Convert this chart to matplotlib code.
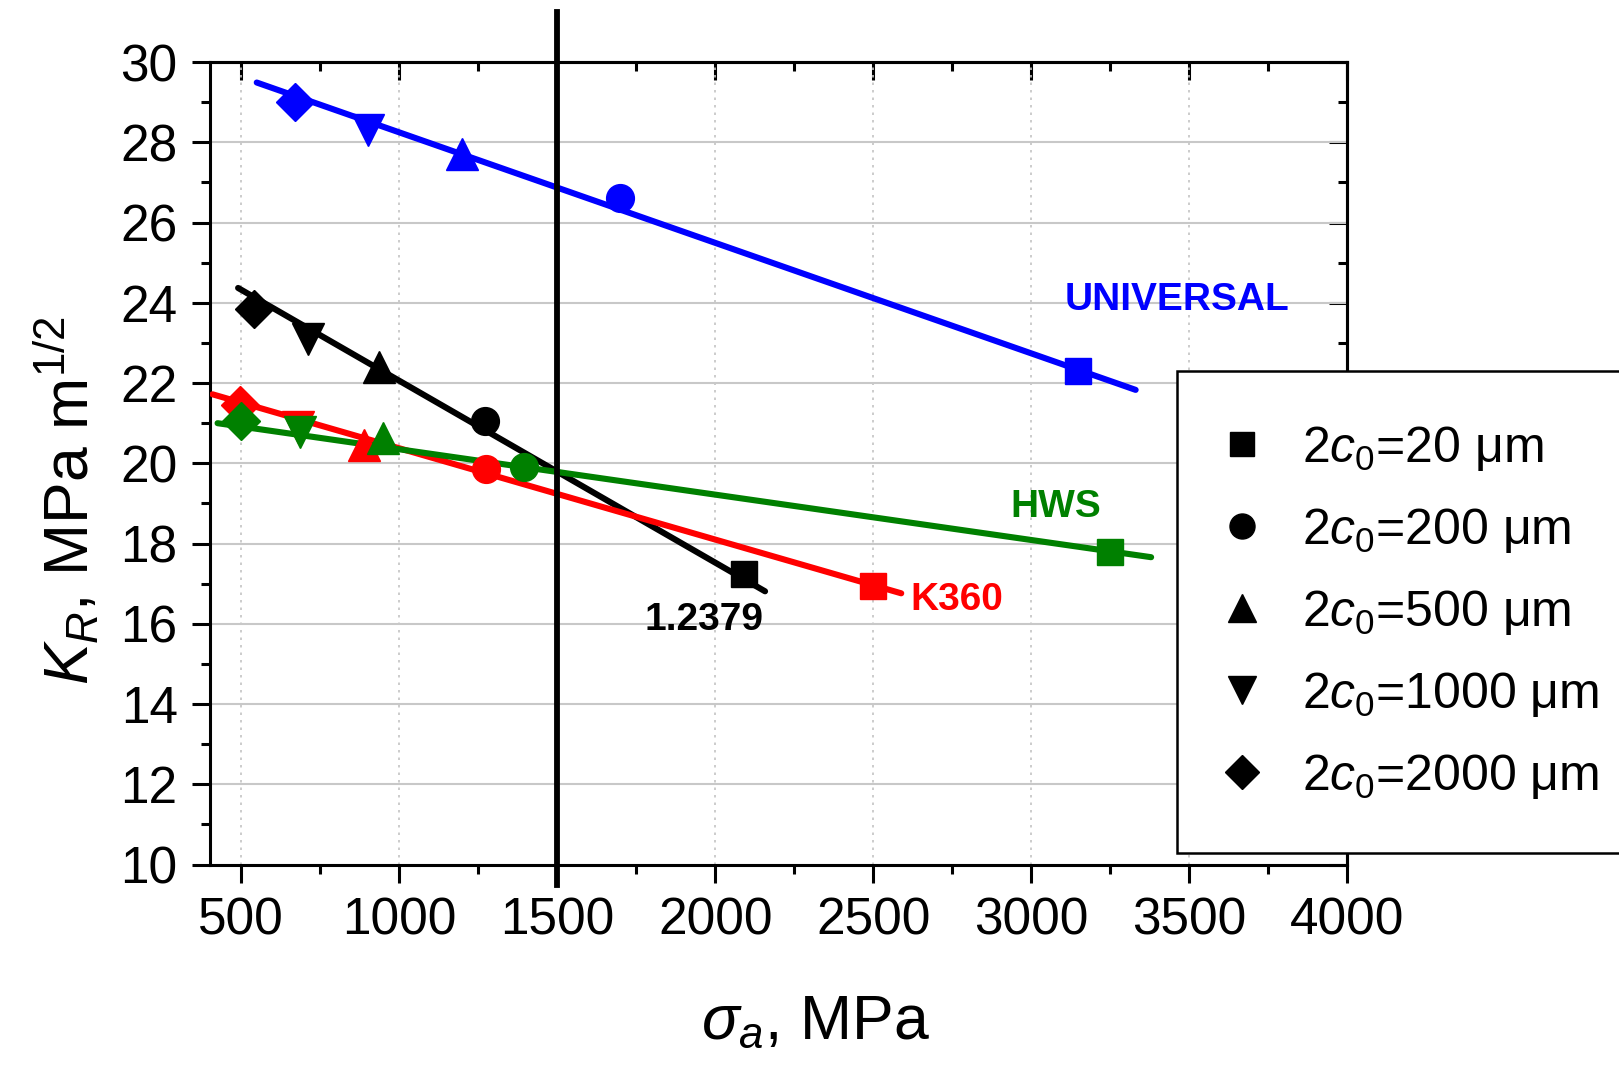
import numpy as np
import matplotlib
matplotlib.use("Agg")
import matplotlib.pyplot as plt
from matplotlib.lines import Line2D
from matplotlib.ticker import MultipleLocator

plt.rcParams['font.family'] = ['Liberation Sans', 'DejaVu Sans']
plt.rcParams['mathtext.fontset'] = 'custom'
plt.rcParams['mathtext.rm'] = 'Liberation Sans'
plt.rcParams['mathtext.it'] = 'Liberation Sans:italic'
plt.rcParams['mathtext.bf'] = 'Liberation Sans:bold'

# Data: marker order = 20, 200, 500, 1000, 2000 um
crack_sizes = ['20', '200', '500', '1000', '2000']
markers = ['s', 'o', '^', 'v', 'D']

universal_x = [3150, 1700, 1200, 900, 670]
universal_y = [22.3, 26.6, 27.7, 28.3, 29.0]
black_x = [2090, 1270, 935, 712, 540]
black_y = [17.25, 21.05, 22.4, 23.1, 23.85]
k360_x = [2500, 1274, 888, 680, 497]
k360_y = [16.95, 19.87, 20.45, 20.9, 21.45]
hws_x = [3250, 1395, 950, 686, 500]
hws_y = [17.8, 19.92, 20.62, 20.78, 21.05]

# fitted line end points
universal_fit_x = [549, 3331]
universal_fit_y = [29.49, 21.83]
black_fit_x = [490, 2158]
black_fit_y = [24.37, 16.81]
k360_fit_x = [409, 2589]
k360_fit_y = [21.72, 16.76]
hws_fit_x = [425, 3380]
hws_fit_y = [21.0, 17.66]

series = [
    (universal_x, universal_y, universal_fit_x, universal_fit_y, 'blue'),
    (black_x, black_y, black_fit_x, black_fit_y, 'black'),
    (k360_x, k360_y, k360_fit_x, k360_fit_y, 'red'),
    (hws_x, hws_y, hws_fit_x, hws_fit_y, 'green'),
]

fig = plt.figure(figsize=(16.19, 10.70), dpi=100)
ax = fig.add_axes([0.1295, 0.192, 0.7025, 0.750])

ax.set_xlim(400, 4000)
ax.set_ylim(10, 30)

# grid
ax.yaxis.grid(True, color='#c8c8c8', lw=1.5, ls='-', zorder=0)
ax.xaxis.grid(True, color='#c4c4c4', lw=1.2, ls=(0, (1.5, 3)), zorder=0)
ax.set_axisbelow(True)

msizes = {'s': 19, 'o': 20, '^': 23, 'v': 23, 'D': 19}
for xs, ys, fx, fy, col in series:
    ax.plot(fx, fy, color=col, lw=4.4, solid_capstyle='round', zorder=3)
    for x, y, m in zip(xs, ys, markers):
        ax.plot(x, y, marker=m, ms=msizes[m], color=col, mec=col, ls='none', zorder=4)

# vertical line at 1500 MPa
ax.axvline(1500, ymin=-0.026, ymax=1.062, color='black', lw=4.2, clip_on=False, zorder=5)

# series labels
lbl_kw = dict(fontsize=28, fontweight='bold', ha='center', va='center')
ax.text(3461, 24.06, 'UNIVERSAL', color='blue', **lbl_kw)
ax.text(3079, 18.92, 'HWS', color='green', **lbl_kw)
ax.text(2766, 16.6, 'K360', color='red', **lbl_kw)
ax.text(1966, 16.09, '1.2379', color='black', **lbl_kw)

# ticks
ax.xaxis.set_major_locator(MultipleLocator(500))
ax.xaxis.set_minor_locator(MultipleLocator(250))
ax.yaxis.set_major_locator(MultipleLocator(2))
ax.yaxis.set_minor_locator(MultipleLocator(1))
ax.tick_params(which='both', width=2.2, labelsize=37, pad=10)
ax.tick_params(which='major', length=13)
ax.tick_params(which='minor', length=6.5)
ax.tick_params(axis='x', which='both', direction='out', top=False)
ax.tick_params(axis='y', which='both', direction='out', right=False)
ax.set_xticks([500, 1000, 1500, 2000, 2500, 3000, 3500, 4000])
for sp in ax.spines.values():
    sp.set_linewidth(2.2)

# top / right inward ticks
axt = ax.secondary_xaxis('top')
axt.xaxis.set_major_locator(MultipleLocator(500))
axt.xaxis.set_minor_locator(MultipleLocator(250))
axt.tick_params(which='both', direction='in', width=2.2, labeltop=False)
axt.tick_params(which='major', length=13)
axt.tick_params(which='minor', length=6.5)
axt.spines['top'].set_linewidth(2.2)
axr = ax.secondary_yaxis('right')
axr.yaxis.set_major_locator(MultipleLocator(2))
axr.yaxis.set_minor_locator(MultipleLocator(1))
axr.tick_params(which='both', direction='in', width=2.2, labelright=False)
axr.tick_params(which='major', length=13)
axr.tick_params(which='minor', length=6.5)
axr.spines['right'].set_linewidth(2.2)

ax.set_xlabel(r'$\sigma_a$, MPa', fontsize=45)
ax.set_ylabel(r'$K_R$, MPa m$^{1/2}$', fontsize=45)
ax.xaxis.set_label_coords(0.533, -0.16)
ax.yaxis.set_label_coords(-0.095, 0.453)

# legend
handles = [Line2D([], [], marker=m, color='black', ls='none', ms=msizes[m] * 0.9)
           for m in markers]
labels = [r'2$\mathit{c}_{\mathit{0}}$=' + s + ' μm' for s in crack_sizes]
leg = fig.legend(handles, labels, loc='upper left', bbox_to_anchor=(0.727, 0.653),
                 fontsize=36, frameon=True, fancybox=False, framealpha=1,
                 edgecolor='black', borderpad=1.05, handlelength=0.5,
                 handletextpad=0.95, labelspacing=0.66, borderaxespad=0)
leg.get_frame().set_linewidth(1.8)

fig.savefig('out.png', dpi=100)
